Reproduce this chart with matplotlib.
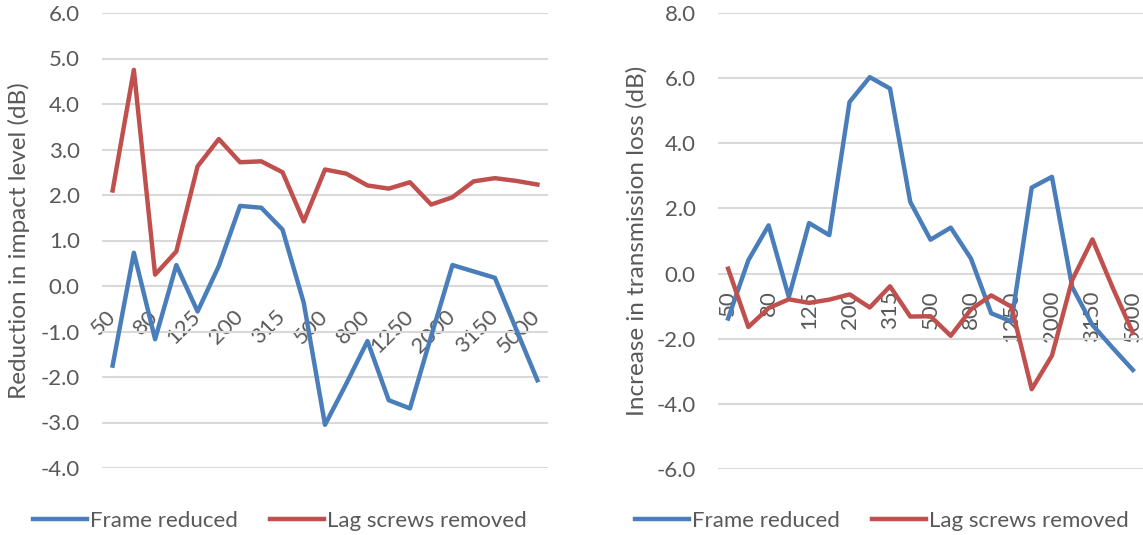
import numpy as np
import matplotlib.pyplot as plt

# one-third octave band centre frequencies (Hz)
bands = ['50', '63', '80', '100', '125', '160', '200', '250', '315', '400', '500',
         '630', '800', '1000', '1250', '1600', '2000', '2500', '3150', '4000', '5000']

# left chart: reduction in impact level (dB)
impact_frame = [-1.75, 0.73, -1.17, 0.46, -0.56, 0.44, 1.76, 1.72, 1.24, -0.37, -3.05,
                -2.15, -1.21, -2.51, -2.69, -1.1, 0.46, 0.32, 0.18, -0.95, -2.07]
impact_lag = [2.1, 4.75, 0.25, 0.76, 2.63, 3.23, 2.72, 2.74, 2.5, 1.42, 2.56,
              2.47, 2.21, 2.14, 2.28, 1.79, 1.95, 2.3, 2.37, 2.31, 2.23]

# right chart: increase in transmission loss (dB)
tl_frame = [-1.38, 0.41, 1.48, -0.72, 1.55, 1.18, 5.27, 6.03, 5.68, 2.2, 1.04,
            1.41, 0.46, -1.22, -1.47, 2.64, 2.97, -0.41, -1.58, -2.28, -2.96]
tl_lag = [0.15, -1.64, -1.06, -0.79, -0.9, -0.8, -0.64, -1.04, -0.39, -1.32, -1.31,
          -1.91, -1.1, -0.67, -1.02, -3.55, -2.52, -0.2, 1.05, -0.43, -1.82]

series_names = ['Frame reduced', 'Lag screws removed']
colors = ['#4a7ebb', '#c0504d']
txt = '#595959'

plt.rcParams['font.family'] = 'Lato'

W, H = 1143, 535
fig = plt.figure(figsize=(W/100, H/100), dpi=100)
FS = 16

def setup(ax, ylo, yhi, step, ylabel, rot):
    x = np.arange(len(bands))
    ax.set_xlim(-0.5, len(bands)-0.5)
    ax.set_ylim(ylo, yhi)
    yt = np.arange(ylo, yhi+0.01, step)
    ax.set_yticks(yt)
    ax.set_yticklabels(['%.1f' % v for v in yt])
    ax.grid(axis='y', color='#d9d9d9', linewidth=1.5)
    ax.set_axisbelow(True)
    for s in ['top', 'right', 'left', 'bottom']:
        ax.spines[s].set_visible(False)
    ax.spines['bottom'].set_position(('data', 0))
    ax.set_xticks(x[::2])
    ax.set_xticklabels(bands[::2])
    ax.tick_params(axis='y', length=0, pad=16, labelsize=FS, labelcolor=txt)
    if rot == 45:
        ax.tick_params(axis='x', length=0, pad=20, labelsize=FS, labelcolor=txt)
        for lab in ax.get_xticklabels():
            lab.set_rotation(45)
            lab.set_rotation_mode('anchor')
            lab.set_ha('right')
            lab.set_va('center')
    else:
        ax.tick_params(axis='x', length=0, pad=12, labelsize=FS, labelcolor=txt, labelrotation=90)
    ax.set_ylabel(ylabel, fontsize=17.5, color=txt)
    return x

ax1 = fig.add_axes([102/W, 1-468/H, 446/W, 455/H])
x = setup(ax1, -4, 6, 1, 'Reduction in impact level (dB)', 45)
l1, = ax1.plot(x, impact_frame, color=colors[0], lw=3.2, solid_joinstyle='round')
l2, = ax1.plot(x, impact_lag, color=colors[1], lw=3.2, solid_joinstyle='round')
ax1.yaxis.set_label_coords(-0.161, 0.5)

ax2 = fig.add_axes([718/W, 1-469/H, 425/W, 456/H])
x = setup(ax2, -6, 8, 2, 'Increase in transmission loss (dB)', 90)
ax2.plot(x, tl_frame, color=colors[0], lw=3.2, solid_joinstyle='round')
ax2.plot(x, tl_lag, color=colors[1], lw=3.2, solid_joinstyle='round')
ax2.yaxis.set_label_coords(-0.165, 0.5)

for cx in [280, 882]:
    fig.legend([l1, l2], series_names, loc='center', bbox_to_anchor=(cx/W, 1-521/H),
               ncol=2, frameon=False, fontsize=FS, labelcolor=txt,
               handlelength=2.4, handletextpad=0.15, columnspacing=1.45)

fig.savefig('out.png', dpi=100)
